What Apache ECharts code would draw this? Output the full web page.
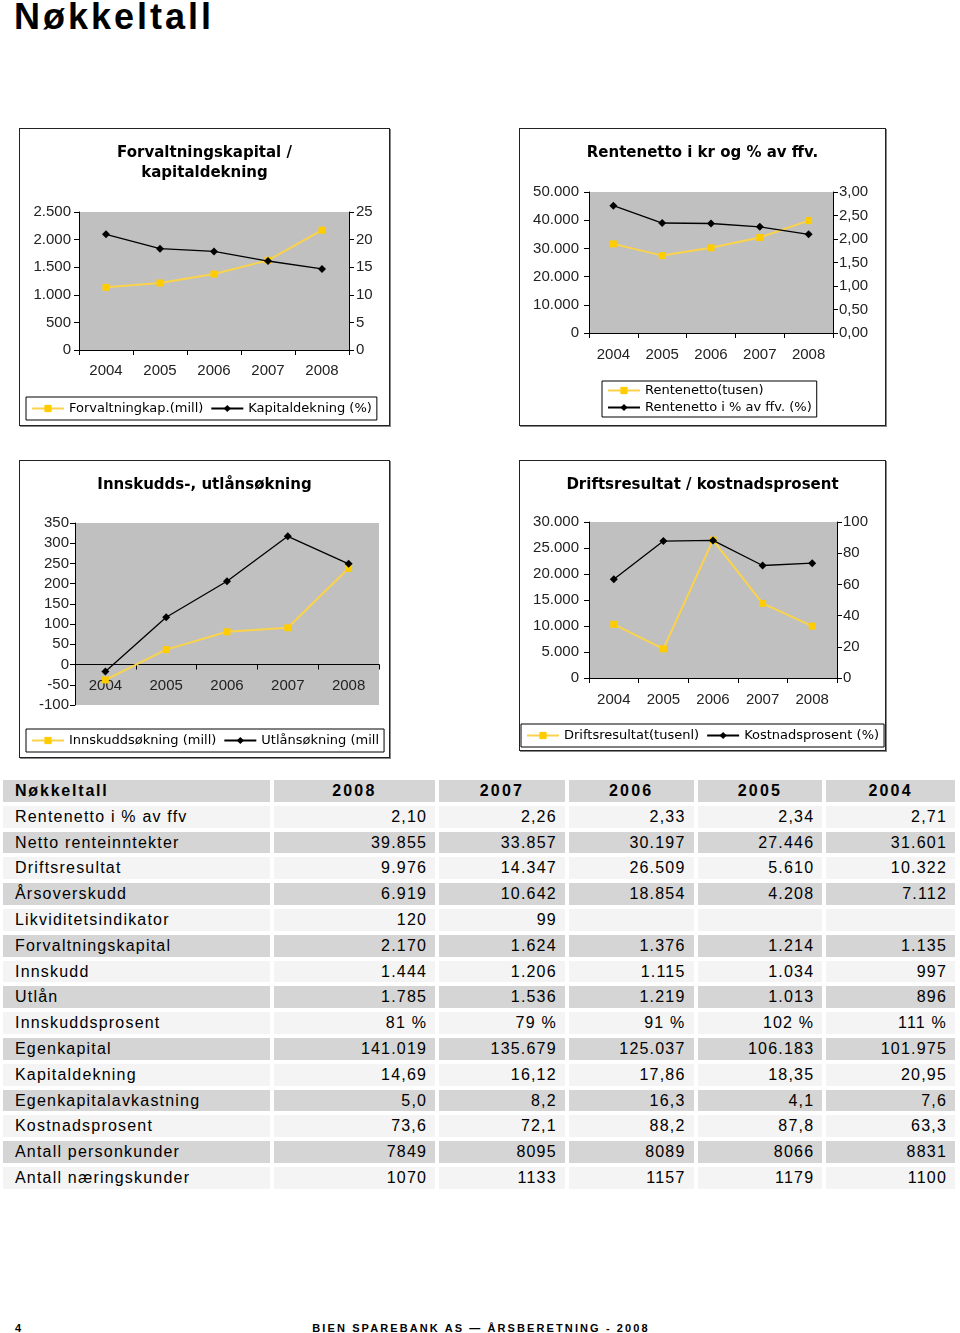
<!DOCTYPE html>
<html>
<head>
<meta charset="utf-8">
<script src="https://cdn.jsdelivr.net/npm/echarts@6/dist/echarts.min.js"></script>
<style>
  html,body{margin:0;padding:0;background:#fff;}
  body{width:960px;height:1333px;position:relative;overflow:hidden;}
  #pageTitle{position:absolute;left:14px;top:-1px;font-family:"Liberation Sans",Arial,sans-serif;font-weight:bold;font-size:36px;line-height:36px;letter-spacing:3px;color:#000;}
  .box{position:absolute;border:1px solid #222;box-shadow:1px 1px 0 #888;background:#fff;}
  #tbl{position:absolute;left:-1px;top:776px;border-collapse:separate;border-spacing:4px;table-layout:fixed;font-family:"Liberation Sans",Arial,sans-serif;font-size:16px;letter-spacing:1.2px;color:#000;}
  #tbl td{height:21.8px;padding:0;white-space:nowrap;overflow:hidden;line-height:21.8px;}
  #tbl td.lab{padding-left:12px;}
  #tbl td.num{text-align:right;padding-right:8px;}
  #tbl tr.hd td{font-weight:bold;letter-spacing:2.2px;text-align:center;}
  #tbl tr.hd td.lab{text-align:left;letter-spacing:1.8px;}
  #tbl tr.g td{background:#d5d5d5;}
  #tbl tr.l td{background:#f4f4f4;}
  #pageNo{position:absolute;left:15px;top:1321px;font-family:"Liberation Sans",Arial,sans-serif;font-weight:bold;font-size:11px;line-height:14px;}
  #footer{position:absolute;left:0;width:962px;text-align:center;top:1321px;font-family:"Liberation Sans",Arial,sans-serif;font-weight:bold;font-size:11px;line-height:14px;letter-spacing:2.1px;}
</style>
</head>
<body>
<div id="pageTitle">Nøkkeltall</div>
<div id="c1" class="box" style="left:19px;top:128px;width:369px;height:296px;"></div>
<div id="c2" class="box" style="left:519px;top:128px;width:365px;height:296px;"></div>
<div id="c3" class="box" style="left:19px;top:460px;width:369px;height:296px;"></div>
<div id="c4" class="box" style="left:519px;top:460px;width:365px;height:289px;"></div>
<table id="tbl"></table>
<div id="pageNo">4</div>
<div id="footer">BIEN SPAREBANK AS — ÅRSBERETNING - 2008</div>
<script>
// ---- chart data ----
const years = ['2004', '2005', '2006', '2007', '2008'];
const forvaltningskap = [1135, 1214, 1376, 1624, 2170];
const kapitaldekning = [20.95, 18.35, 17.86, 16.12, 14.69];
const rentenettoTusen = [31601, 27446, 30197, 33857, 39855];
const rentenettoPst = [2.71, 2.34, 2.33, 2.26, 2.10];
const innskuddsokning = [-38, 37, 81, 91, 238];
const utlansokning = [-17, 117, 206, 317, 249];
const driftsresultat = [10322, 5610, 26509, 14347, 9976];
const kostnadsprosent = [63.3, 87.8, 88.2, 72.1, 73.6];

// ---- table data ----
const tableHeader = ['Nøkkeltall', '2008', '2007', '2006', '2005', '2004'];
const tableLabels = ['Rentenetto i % av ffv', 'Netto renteinntekter', 'Driftsresultat', 'Årsoverskudd',
  'Likviditetsindikator', 'Forvaltningskapital', 'Innskudd', 'Utlån', 'Innskuddsprosent', 'Egenkapital',
  'Kapitaldekning', 'Egenkapitalavkastning', 'Kostnadsprosent', 'Antall personkunder', 'Antall næringskunder'];
const tableValues = [
  ['2,10', '2,26', '2,33', '2,34', '2,71'],
  ['39.855', '33.857', '30.197', '27.446', '31.601'],
  ['9.976', '14.347', '26.509', '5.610', '10.322'],
  ['6.919', '10.642', '18.854', '4.208', '7.112'],
  ['120', '99', '', '', ''],
  ['2.170', '1.624', '1.376', '1.214', '1.135'],
  ['1.444', '1.206', '1.115', '1.034', '997'],
  ['1.785', '1.536', '1.219', '1.013', '896'],
  ['81 %', '79 %', '91 %', '102 %', '111 %'],
  ['141.019', '135.679', '125.037', '106.183', '101.975'],
  ['14,69', '16,12', '17,86', '18,35', '20,95'],
  ['5,0', '8,2', '16,3', '4,1', '7,6'],
  ['73,6', '72,1', '88,2', '87,8', '63,3'],
  ['7849', '8095', '8089', '8066', '8831'],
  ['1070', '1133', '1157', '1179', '1100']
];
const colWidths = [267, 162, 126, 125, 125, 129];

// ---- build table ----
(function () {
  const t = document.getElementById('tbl');
  let html = '<colgroup>' + colWidths.map(w => '<col style="width:' + w + 'px">').join('') + '</colgroup>';
  html += '<tr class="hd g">' + tableHeader.map((h, i) => '<td class="' + (i === 0 ? 'lab' : '') + '">' + h + '</td>').join('') + '</tr>';
  tableLabels.forEach((lab, r) => {
    html += '<tr class="' + (r % 2 === 0 ? 'l' : 'g') + '"><td class="lab">' + lab + '</td>' +
      tableValues[r].map(v => '<td class="num">' + v + '</td>').join('') + '</tr>';
  });
  t.innerHTML = html;
})();

// ---- chart helpers ----
const YELLOW = '#ffcc00';
const YLINE = '#fbd34a';
const AXFONT = { fontFamily: 'Liberation Sans, Arial, sans-serif', fontSize: 15, color: '#222' };
function thou(v) { return String(v).replace(/\B(?=(\d{3})+(?!\d))/g, '.'); }
function dec2(v) { return v.toFixed(2).replace('.', ','); }

function title(text, top) {
  return {
    text: text, left: 'center', top: top,
    textStyle: { fontFamily: 'DejaVu Sans, Verdana, sans-serif', fontWeight: 'bold', fontSize: 15, color: '#000', lineHeight: 20 }
  };
}
function legend(pos, orient) {
  return Object.assign({
    orient: orient || 'horizontal',
    borderColor: '#000', borderWidth: 1, padding: orient === 'vertical' ? [3, 5] : [5, 5],
    itemGap: orient === 'vertical' ? 4 : 7, itemWidth: 32, itemHeight: 9,
    backgroundColor: '#fff',
    textStyle: { fontFamily: 'DejaVu Sans, Verdana, sans-serif', fontSize: 13, color: '#000' }
  }, pos);
}
function xAxis(margin) {
  return {
    type: 'category', data: years, boundaryGap: true,
    axisLine: { lineStyle: { color: '#000', width: 1 } },
    axisTick: { show: true, length: 5, lineStyle: { color: '#000' } },
    axisLabel: Object.assign({ margin: margin }, AXFONT),
    splitLine: { show: false }
  };
}
function yAxis(pos, min, max, interval, fmt, margin) {
  return {
    type: 'value', position: pos, min: min, max: max, interval: interval,
    axisLine: { show: true, onZero: false, lineStyle: { color: '#000', width: 1 } },
    axisTick: { show: true, length: 5, lineStyle: { color: '#000' } },
    axisLabel: Object.assign({ margin: margin, formatter: fmt }, AXFONT),
    splitLine: { show: false }
  };
}
function ySeries(name, data, yIdx) {
  return {
    name: name, type: 'line', data: data, yAxisIndex: yIdx || 0,
    symbol: 'rect', symbolSize: 7,
    lineStyle: { color: YLINE, width: 2 }, itemStyle: { color: YELLOW },
    z: 2, animation: false
  };
}
function bSeries(name, data, yIdx) {
  return {
    name: name, type: 'line', data: data, yAxisIndex: yIdx || 0,
    symbol: 'diamond', symbolSize: 8,
    lineStyle: { color: '#000', width: 1.3 }, itemStyle: { color: '#000' },
    z: 3, animation: false
  };
}
const gridBase = { show: true, backgroundColor: '#c0c0c0', borderWidth: 0, containLabel: false };

// ---- Chart 1 ----
echarts.init(document.getElementById('c1')).setOption({
  animation: false,
  title: title('Forvaltningskapital /\nkapitaldekning', 9),
  grid: Object.assign({ left: 59, right: 40, top: 83, bottom: 75 }, gridBase),
  legend: legend({ left: 6, top: 268 }),
  xAxis: xAxis(13),
  yAxis: [yAxis('left', 0, 2500, 500, thou, 8), yAxis('right', 0, 25, 5, null, 7)],
  series: [ySeries('Forvaltningkap.(mill)', forvaltningskap, 0), bSeries('Kapitaldekning (%)', kapitaldekning, 1)]
});

// ---- Chart 2 ----
echarts.init(document.getElementById('c2')).setOption({
  animation: false,
  title: title('Rentenetto i kr og % av ffv.', 9),
  grid: Object.assign({ left: 69, right: 52, top: 63, bottom: 92 }, gridBase),
  legend: legend({ left: 82, top: 252 }, 'vertical'),
  xAxis: xAxis(14),
  yAxis: [yAxis('left', 0, 50000, 10000, thou, 10), yAxis('right', 0, 3, 0.5, dec2, 6)],
  series: [ySeries('Rentenetto(tusen)', rentenettoTusen, 0), bSeries('Rentenetto i % av ffv. (%)', rentenettoPst, 1)]
});

// ---- Chart 3 ----
const x3 = xAxis(-27);
x3.axisLine.onZero = true;
echarts.init(document.getElementById('c3')).setOption({
  animation: false,
  title: title('Innskudds-, utlånsøkning', 9),
  grid: Object.assign({ left: 55, right: 10, top: 62, bottom: 52 }, gridBase),
  legend: legend({ left: 6, top: 268 }),
  xAxis: x3,
  yAxis: [yAxis('left', -100, 350, 50, null, 6)],
  series: [ySeries('Innskuddsøkning (mill)', innskuddsokning, 0), bSeries('Utlånsøkning (mill', utlansokning, 0)]
});

// ---- Chart 4 ----
echarts.init(document.getElementById('c4')).setOption({
  animation: false,
  title: title('Driftsresultat / kostnadsprosent', 9),
  grid: Object.assign({ left: 69, right: 48, top: 61, bottom: 72 }, gridBase),
  legend: legend({ left: 1, top: 263 }),
  xAxis: xAxis(14),
  yAxis: [yAxis('left', 0, 30000, 5000, thou, 10), yAxis('right', 0, 100, 20, null, 6)],
  series: [ySeries('Driftsresultat(tusenl)', driftsresultat, 0), bSeries('Kostnadsprosent (%)', kostnadsprosent, 1)]
});
</script>
</body>
</html>
